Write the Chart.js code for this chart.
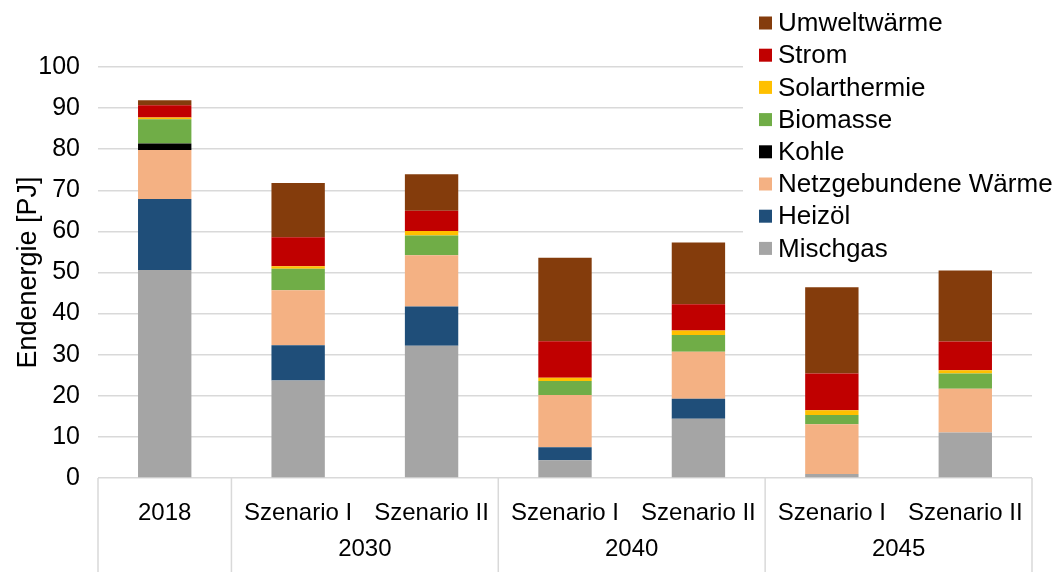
<!DOCTYPE html>
<html>
<head>
<meta charset="utf-8">
<script src="https://cdn.jsdelivr.net/npm/chart.js@4"></script>
<style>
  html, body { margin: 0; padding: 0; background: #fff; }
  #wrap { width: 1055px; height: 572px; position: relative; }
</style>
</head>
<body>
<div id="wrap"><canvas id="chart"></canvas></div>
<script>
const categories = ['2018', 'Szenario I', 'Szenario II', 'Szenario I', 'Szenario II', 'Szenario I', 'Szenario II'];
const groupLabels = ['2030', '2040', '2045'];
const groupStart = [1, 3, 5];   // first category index of each group
const groupEnd = [2, 4, 6];
const yTicks = [0, 10, 20, 30, 40, 50, 60, 70, 80, 90, 100];

// values in PJ
const mischgas = [50.6, 23.7, 32.2, 4.3, 14.4, 1.0, 11.1];
const heizoel  = [17.3, 8.6, 9.5, 3.2, 4.9, 0, 0];
const netz     = [11.9, 13.4, 12.5, 12.7, 11.4, 12.1, 10.6];
const kohle    = [1.6, 0, 0, 0, 0, 0, 0];
const biomasse = [5.9, 5.2, 4.8, 3.4, 4.1, 2.2, 3.7];
const solar    = [0.4, 0.6, 1.1, 0.8, 1.1, 1.2, 0.8];
const strom    = [3.0, 7.1, 4.9, 8.9, 6.4, 8.9, 7.0];
const umwelt   = [1.2, 13.2, 8.9, 20.3, 15.0, 21.0, 17.3];

const FONT = '"Liberation Sans", Arial, sans-serif';
const GRID = '#d9d9d9';

// category axis box, group labels underneath
const groupAxis = {
    id: 'groupAxis',
    afterDraw(chart) {
        const { ctx, chartArea, scales: { x } } = chart;
        const half = (x.getPixelForValue(1) - x.getPixelForValue(0)) / 2;
        const bottom = chart.height;
        ctx.save();
        ctx.strokeStyle = GRID;
        ctx.lineWidth = 1.5;
        const edges = [x.getPixelForValue(0) - half, x.getPixelForValue(0) + half];
        groupEnd.forEach(i => edges.push(x.getPixelForValue(i) + half));
        edges.forEach(px => {
            ctx.beginPath();
            ctx.moveTo(px, chartArea.bottom);
            ctx.lineTo(px, bottom);
            ctx.stroke();
        });
        ctx.fillStyle = '#000';
        ctx.font = '24px ' + FONT;
        ctx.textAlign = 'center';
        ctx.textBaseline = 'middle';
        groupLabels.forEach((g, k) => {
            const mid = (x.getPixelForValue(groupStart[k]) + x.getPixelForValue(groupEnd[k])) / 2;
            ctx.fillText(g, mid, 549);
        });
        ctx.restore();
    }
};

// legend box laid over the top right of the plot
const overlayLegend = {
    id: 'overlayLegend',
    afterDraw(chart) {
        const { ctx } = chart;
        ctx.save();
        ctx.fillStyle = '#fff';
        ctx.fillRect(743, 0, 312, 262);
        ctx.font = '26px ' + FONT;
        ctx.textBaseline = 'middle';
        const sets = chart.data.datasets.slice().reverse();
        sets.forEach((ds, i) => {
            const cy = 23 + i * 32.2;
            ctx.fillStyle = ds.backgroundColor;
            ctx.fillRect(759, cy - 6.5, 13, 13);
            ctx.fillStyle = '#000';
            ctx.fillText(ds.label, 778, cy + 1);
        });
        ctx.restore();
    }
};

new Chart(document.getElementById('chart'), {
    type: 'bar',
    data: {
        labels: categories,
        datasets: [
            { label: 'Mischgas', data: mischgas, backgroundColor: '#a5a5a5' },
            { label: 'Heizöl', data: heizoel, backgroundColor: '#1f4e79' },
            { label: 'Netzgebundene Wärme', data: netz, backgroundColor: '#f4b183' },
            { label: 'Kohle', data: kohle, backgroundColor: '#000000' },
            { label: 'Biomasse', data: biomasse, backgroundColor: '#70ad47' },
            { label: 'Solarthermie', data: solar, backgroundColor: '#ffc000' },
            { label: 'Strom', data: strom, backgroundColor: '#c00000' },
            { label: 'Umweltwärme', data: umwelt, backgroundColor: '#843c0c' }
        ]
    },
    options: {
        responsive: true,
        maintainAspectRatio: false,
        animation: false,
        layout: { padding: { top: 67, right: 23, left: 0, bottom: 0 } },
        datasets: { bar: { barPercentage: 0.4, categoryPercentage: 1, borderWidth: 0 } },
        plugins: {
            legend: { display: false },
            tooltip: { enabled: false }
        },
        scales: {
            x: {
                stacked: true,
                grid: { display: false, drawTicks: false },
                border: { display: false },
                ticks: { color: '#000', font: { family: FONT, size: 24 }, padding: 21, maxRotation: 0, autoSkip: false },
                afterFit(s) { s.height = 94; }
            },
            y: {
                stacked: true,
                min: 0,
                max: 100,
                afterBuildTicks(s) { s.ticks = yTicks.map(v => ({ value: v })); },
                grid: { color: GRID, lineWidth: 1.5, drawTicks: false },
                border: { display: false },
                ticks: { color: '#000', font: { family: FONT, size: 25 }, padding: 18 },
                title: { display: true, text: 'Endenergie [PJ]', color: '#000', font: { family: FONT, size: 27 }, padding: { top: 12, bottom: 4 } },
                afterFit(s) { s.width = 98; }
            }
        }
    },
    plugins: [groupAxis, overlayLegend]
});
</script>
</body>
</html>
